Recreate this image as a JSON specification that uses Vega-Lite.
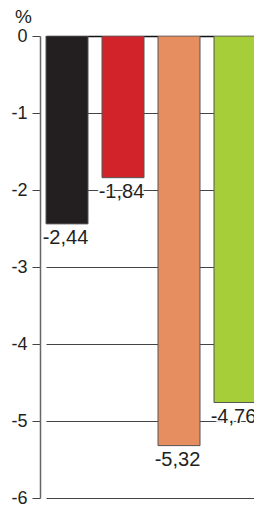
{
  "$schema": "https://vega.github.io/schema/vega-lite/v6.json",
  "width": 214,
  "height": 462,
  "autosize": {"type": "none"},
  "padding": {"left": 40, "top": 36, "right": 0, "bottom": 9},
  "background": "white",
  "config": {
    "view": {"stroke": null},
    "locale": {"number": {"decimal": ",", "thousands": ".", "grouping": [3], "currency": ["", " €"], "minus": "-"}},
    "font": "Liberation Sans"
  },
  "data": {
    "values": [
      {"serie": "1", "valeur": -2.44, "couleur": "#231f20"},
      {"serie": "2", "valeur": -1.84, "couleur": "#d2232a"},
      {"serie": "3", "valeur": -5.32, "couleur": "#e68e5f"},
      {"serie": "4", "valeur": -4.76, "couleur": "#a6ce39"}
    ]
  },
  "encoding": {
    "x": {
      "field": "serie",
      "type": "nominal",
      "sort": null,
      "scale": {"range": [6, 216], "paddingInner": 0.25, "paddingOuter": 0},
      "axis": null
    },
    "y": {
      "field": "valeur",
      "type": "quantitative",
      "scale": {"domain": [-6, 0], "nice": false, "zero": true},
      "axis": {
        "values": [0, -1, -2, -3, -4, -5, -6],
        "format": "d",
        "title": "%",
        "titleAngle": 0,
        "titleX": -17,
        "titleY": -20,
        "titleAlign": "center",
        "titleBaseline": "middle",
        "titleFontWeight": "normal",
        "titleFontSize": 19,
        "titleColor": "#231f20",
        "titleFont": "Liberation Sans",
        "labelFontSize": 18,
        "labelColor": "#231f20",
        "labelFont": "Liberation Sans",
        "labelPadding": 5,
        "tickSize": 8,
        "tickColor": "#444444",
        "tickWidth": 1,
        "domainColor": "#666666",
        "domainWidth": 1.5,
        "grid": true,
        "gridColor": {"condition": {"test": "datum.value === 0", "value": "#111111"}, "value": "#444444"},
        "gridWidth": {"condition": {"test": "datum.value === 0", "value": 1.5}, "value": 1},
        "labelFlush": false,
        "labelOverlap": false
      }
    }
  },
  "layer": [
    {
      "mark": {"type": "bar", "stroke": "#555555", "strokeWidth": 1, "clip": true},
      "encoding": {
        "color": {"field": "couleur", "type": "nominal", "scale": null}
      }
    },
    {
      "mark": {"type": "text", "baseline": "top", "dy": 4, "dx": -1.5, "fontSize": 20, "stroke": "white", "strokeWidth": 3, "fill": "white"},
      "encoding": {
        "text": {"field": "valeur", "type": "quantitative", "format": ".2f"}
      }
    },
    {
      "mark": {"type": "text", "baseline": "top", "dy": 4, "dx": -1.5, "fontSize": 20, "color": "#231f20"},
      "encoding": {
        "text": {"field": "valeur", "type": "quantitative", "format": ".2f"}
      }
    }
  ]
}
